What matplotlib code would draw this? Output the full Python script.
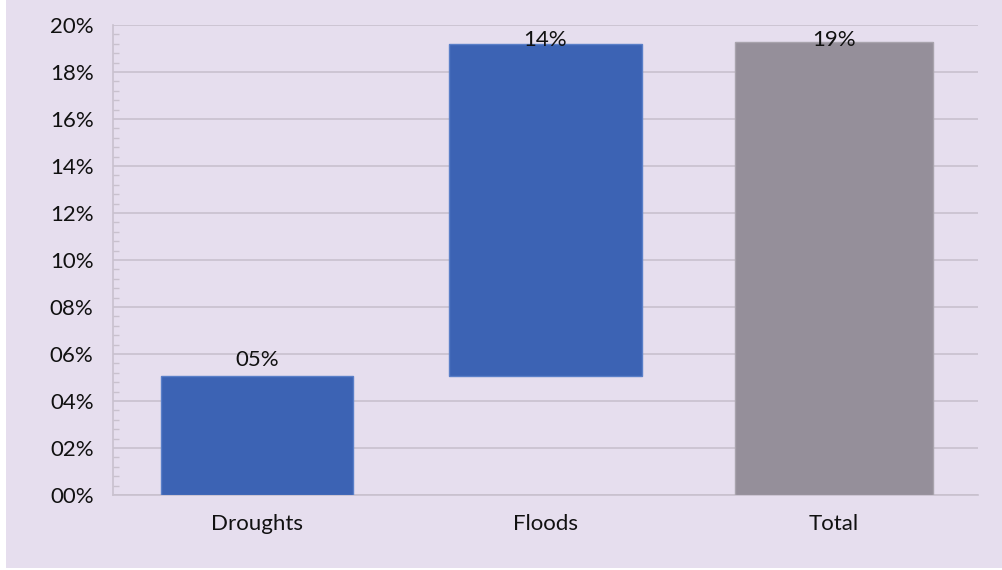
import matplotlib
matplotlib.use("Agg")
import matplotlib.pyplot as plt
from matplotlib.patches import Rectangle
from matplotlib.ticker import MultipleLocator, FuncFormatter

categories = ["Droughts", "Floods", "Total"]
changes = [0.0508, 0.1410, None]   # None -> total bar
total_value = 0.1928
bar_colors = ["#3C63B4", "#3C63B4", "#958F9A"]
edge_colors = ["#5A7FC8", "#5A7FC8", "#A8A3AC"]

bg = "#E6DEEE"
grid_col = "#C9C1CE"

plt.rcParams["font.family"] = ["Lato", "DejaVu Sans"]

fig = plt.figure(figsize=(10.02, 5.70), dpi=100, facecolor="white")
fig.patches.append(Rectangle((6 / 1002, 2 / 570), 1, 1, transform=fig.transFigure,
                             facecolor=bg, edgecolor="none", zorder=-10))
ax = fig.add_axes([113 / 1002, 75 / 570, 865 / 1002, 470 / 570])
ax.set_facecolor(bg)

# waterfall bottoms / heights
bottoms, heights = [], []
running = 0.0
for c in changes:
    if c is None:
        bottoms.append(0.0)
        heights.append(total_value)
    else:
        bottoms.append(running)
        heights.append(c)
        running += c

x = range(len(categories))
widths = [0.667, 0.667, 0.685]
ax.bar(x, heights, bottom=bottoms, width=widths, color=bar_colors,
       edgecolor=edge_colors, linewidth=1, zorder=3)

for i, (b, h) in enumerate(zip(bottoms, heights)):
    top = b + h
    y = min(top + 0.0065, 0.1936)
    ax.text(i, y, f"{round(h * 100):02d}%", ha="center", va="center",
            fontsize=16, color="#111111", zorder=4)

ax.set_xlim(-0.5, 2.5)
ax.set_ylim(0, 0.20)
ax.yaxis.set_major_locator(MultipleLocator(0.02))
ax.yaxis.set_minor_locator(MultipleLocator(0.004))
ax.yaxis.set_major_formatter(FuncFormatter(lambda v, p: f"{round(v * 100):02d}%"))
ax.set_xticks(list(x))
ax.set_xticklabels(categories)

ax.grid(axis="y", color=grid_col, linewidth=1.2, zorder=0)
ax.set_axisbelow(True)
for s in ["top", "right"]:
    ax.spines[s].set_visible(False)
ax.spines["left"].set_color(grid_col)
ax.spines["bottom"].set_color(grid_col)
ax.spines["left"].set_linewidth(1.2)
ax.spines["bottom"].set_linewidth(1.2)

ax.tick_params(axis="y", which="major", direction="in", length=0, pad=14,
               labelsize=16, labelcolor="#111111")
ax.tick_params(axis="y", which="minor", direction="in", length=4,
               color=grid_col, width=1)
ax.tick_params(axis="x", length=0, pad=14, labelsize=16, labelcolor="#111111")

fig.savefig("out.png", dpi=100, facecolor=fig.get_facecolor())
